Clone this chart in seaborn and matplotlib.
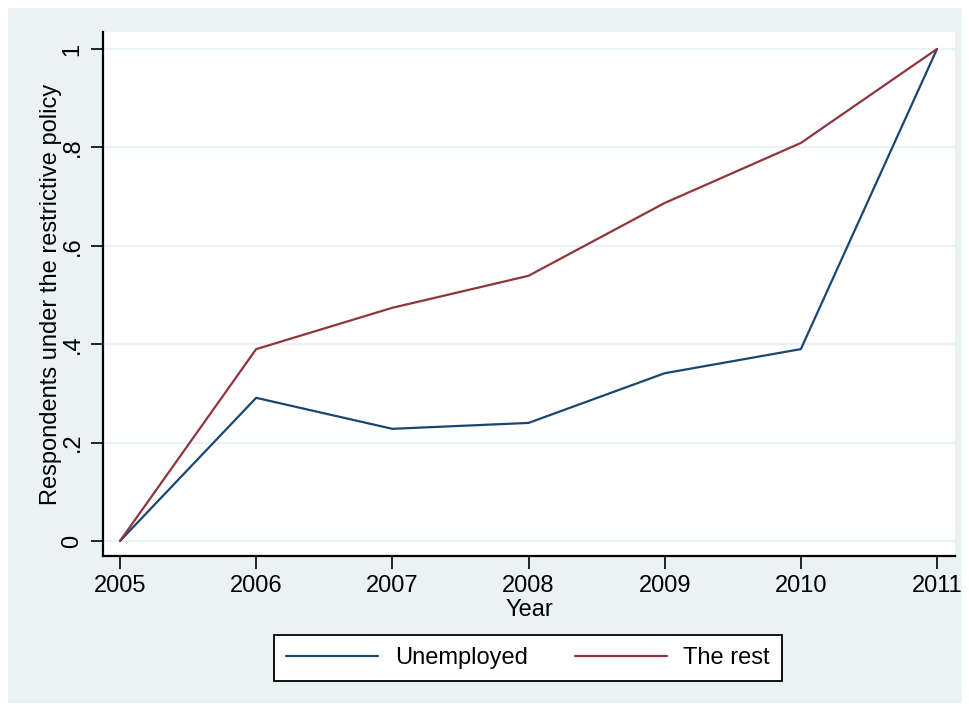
import matplotlib
matplotlib.use("Agg")
import matplotlib.pyplot as plt
import seaborn as sns
import pandas as pd
from matplotlib.patches import Rectangle

years = [2005, 2006, 2007, 2008, 2009, 2010, 2011]
unemployed = [0.0, 0.291, 0.228, 0.240, 0.341, 0.390, 1.0]
the_rest = [0.0, 0.390, 0.474, 0.539, 0.687, 0.809, 1.0]
series_names = ["Unemployed", "The rest"]
y_ticks = [0, 0.2, 0.4, 0.6, 0.8, 1.0]
y_tick_labels = ["0", ".2", ".4", ".6", ".8", "1"]

df = pd.DataFrame({
    "Year": years * 2,
    "value": unemployed + the_rest,
    "group": [series_names[0]] * len(years) + [series_names[1]] * len(years),
})

sns.set_theme(style="white")
plt.rcParams["font.family"] = ["Liberation Sans", "DejaVu Sans"]
plt.rcParams["text.color"] = "black"
plt.rcParams["axes.labelcolor"] = "black"
plt.rcParams["xtick.color"] = "black"
plt.rcParams["ytick.color"] = "black"

FS = 17
BG = "#eaf2f3"
fig = plt.figure(figsize=(9.69, 7.11), dpi=100, facecolor="white")
bgpatch = Rectangle((8 / 969, 8 / 711), (962 - 8) / 969, (703 - 8) / 711,
                    transform=fig.transFigure, facecolor=BG, edgecolor="none", zorder=-10)
fig.patches.append(bgpatch)

ax = fig.add_axes([103 / 969, 1 - 556 / 711, (955 - 103) / 969, (556 - 32) / 711])
ax.set_facecolor("white")
ax.set_zorder(1)

sns.lineplot(data=df, x="Year", y="value", hue="group", hue_order=series_names,
             palette=["#1a476f", "#90353b"], linewidth=1.6, ax=ax, legend=False)

ax.set_xlim(2005 - 17 / 136.2, 2011 + 18 / 136.2)
ax.set_ylim(-15 / 492, 1 + 17 / 492)
ax.set_xticks(years)
ax.set_xticklabels([str(y) for y in years], fontsize=FS)
ax.set_yticks(y_ticks)
ax.set_yticklabels(y_tick_labels, fontsize=FS, rotation=90, va="center")
for y in y_ticks:
    ax.axhline(y, color=BG, linewidth=1.6, zorder=0)

ax.tick_params(axis="both", direction="out", length=9, width=1.2, color="black",
               bottom=True, left=True, pad=5)
for s in ["top", "right"]:
    ax.spines[s].set_visible(False)
for s in ["left", "bottom"]:
    ax.spines[s].set_color("black")
    ax.spines[s].set_linewidth(1.6)

ax.set_xlabel("Year", fontsize=FS, labelpad=1)
ax.set_ylabel("Respondents under the restrictive policy", fontsize=FS, labelpad=0)

handles = [plt.Line2D([], [], color="#1a476f", linewidth=1.6),
           plt.Line2D([], [], color="#90353b", linewidth=1.6)]
leg = fig.legend(handles, series_names, loc="center", bbox_to_anchor=(528 / 969, 1 - 658 / 711),
                 ncol=2, fontsize=FS, frameon=True, fancybox=False, handlelength=3.9,
                 handletextpad=0.7, columnspacing=2.0, borderpad=0.5)
leg.get_frame().set_edgecolor("black")
leg.get_frame().set_linewidth(1.3)
leg.get_frame().set_facecolor("white")
leg.get_frame().set_alpha(1)

fig.savefig("out.png", dpi=100, facecolor="white")
